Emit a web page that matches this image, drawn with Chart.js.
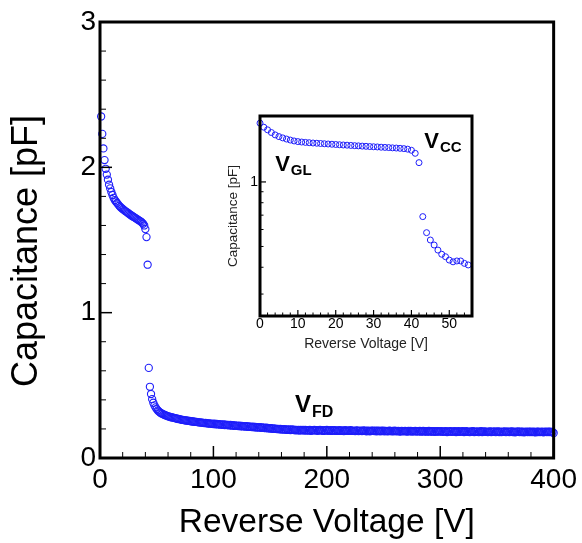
<!DOCTYPE html>
<html>
<head>
<meta charset="utf-8">
<title>C-V sweep</title>
<script src="https://cdn.jsdelivr.net/npm/chart.js@4"></script>
<style>
  body { margin: 0; background: #fff; }
  #wrap { position: relative; width: 582px; height: 543px; }
  #main { position: absolute; left: 0; top: 0; }
  #inset { position: absolute; left: 200px; top: 100px; }
</style>
</head>
<body>
<div id="wrap">
  <canvas id="main" width="582" height="543"></canvas>
  <canvas id="inset" width="290" height="260"></canvas>
</div>
<script>
// full sweep: 1 V steps starting at 1 V
const mainStartV = 1;
const mainStepV = 1;
const mainCap = [
  2.35, 2.23, 2.13, 2.05, 1.99, 1.95, 1.915, 1.88, 1.855, 1.83,
  1.81, 1.79, 1.775, 1.765, 1.755, 1.745, 1.735, 1.727, 1.72, 1.713,
  1.707, 1.70, 1.695, 1.69, 1.684, 1.678, 1.672, 1.667, 1.662, 1.657,
  1.652, 1.647, 1.642, 1.637, 1.632, 1.627, 1.62, 1.612, 1.60, 1.575,
  1.52, 1.33, 0.62, 0.49, 0.44, 0.405, 0.38, 0.362, 0.348, 0.336,
  0.327, 0.319, 0.313, 0.308, 0.304, 0.300, 0.296, 0.293, 0.290, 0.287,
  0.285, 0.282, 0.280, 0.279, 0.276, 0.274, 0.273, 0.270, 0.269, 0.267,
  0.266, 0.263, 0.262, 0.261, 0.259, 0.258, 0.257, 0.255, 0.255, 0.253,
  0.252, 0.251, 0.250, 0.248, 0.248, 0.247, 0.245, 0.245, 0.243, 0.243,
  0.242, 0.240, 0.241, 0.239, 0.238, 0.238, 0.236, 0.237, 0.235, 0.234,
  0.236, 0.232, 0.234, 0.231, 0.233, 0.229, 0.232, 0.228, 0.231, 0.227,
  0.229, 0.226, 0.228, 0.224, 0.227, 0.223, 0.226, 0.222, 0.224, 0.221,
  0.223, 0.220, 0.222, 0.218, 0.221, 0.217, 0.220, 0.216, 0.219, 0.215,
  0.218, 0.214, 0.216, 0.213, 0.215, 0.211, 0.214, 0.210, 0.213, 0.209,
  0.212, 0.208, 0.210, 0.207, 0.209, 0.205, 0.208, 0.204, 0.206, 0.203,
  0.205, 0.201, 0.204, 0.200, 0.202, 0.199, 0.201, 0.197, 0.200, 0.196,
  0.199, 0.195, 0.198, 0.194, 0.197, 0.193, 0.196, 0.192, 0.196, 0.193,
  0.195, 0.191, 0.194, 0.190, 0.194, 0.189, 0.193, 0.190, 0.194, 0.189,
  0.193, 0.188, 0.192, 0.189, 0.193, 0.187, 0.191, 0.190, 0.193, 0.188,
  0.192, 0.187, 0.191, 0.193, 0.188, 0.191, 0.186, 0.192, 0.189, 0.193,
  0.187, 0.190, 0.192, 0.186, 0.191, 0.188, 0.192, 0.186, 0.190, 0.187,
  0.191, 0.186, 0.190, 0.188, 0.185, 0.191, 0.187, 0.190, 0.186, 0.189,
  0.191, 0.186, 0.189, 0.187, 0.185, 0.190, 0.188, 0.185, 0.189, 0.187,
  0.185, 0.190, 0.186, 0.189, 0.184, 0.188, 0.187, 0.184, 0.189, 0.186,
  0.189, 0.185, 0.188, 0.184, 0.189, 0.186, 0.183, 0.188, 0.185, 0.189,
  0.184, 0.187, 0.185, 0.183, 0.188, 0.186, 0.183, 0.187, 0.184, 0.188,
  0.185, 0.183, 0.187, 0.184, 0.182, 0.187, 0.185, 0.183, 0.186, 0.184,
  0.182, 0.187, 0.184, 0.186, 0.182, 0.185, 0.183, 0.186, 0.182, 0.185,
  0.183, 0.186, 0.181, 0.184, 0.186, 0.182, 0.185, 0.181, 0.184, 0.186,
  0.181, 0.184, 0.182, 0.185, 0.180, 0.184, 0.182, 0.185, 0.181, 0.183,
  0.185, 0.180, 0.183, 0.181, 0.184, 0.179, 0.183, 0.182, 0.184, 0.180,
  0.183, 0.181, 0.184, 0.179, 0.182, 0.184, 0.180, 0.183, 0.181, 0.184,
  0.179, 0.182, 0.184, 0.180, 0.182, 0.178, 0.183, 0.181, 0.184, 0.179,
  0.182, 0.180, 0.183, 0.178, 0.182, 0.184, 0.179, 0.181, 0.183, 0.180,
  0.182, 0.178, 0.181, 0.183, 0.179, 0.182, 0.180, 0.183, 0.178, 0.181,
  0.183, 0.179, 0.181, 0.178, 0.182, 0.180, 0.183, 0.178, 0.181, 0.182,
  0.178, 0.181, 0.183, 0.179, 0.181, 0.177, 0.182, 0.180, 0.183, 0.178,
  0.181, 0.179, 0.182, 0.177, 0.180, 0.182, 0.178, 0.181, 0.179, 0.182,
  0.178, 0.181, 0.179, 0.177, 0.182, 0.179, 0.181, 0.178, 0.180, 0.182,
  0.177, 0.180, 0.182, 0.178, 0.181, 0.179, 0.182, 0.178, 0.179, 0.172
];

// low-voltage sweep (inset, log axis): 1 V steps from 0 V
const insetStartV = 0;
const insetStepV = 1;
const insetCap = [
  1.88, 1.80, 1.75, 1.70, 1.657, 1.627, 1.605, 1.585, 1.568, 1.553,
  1.542, 1.535, 1.529, 1.524, 1.519, 1.515, 1.511, 1.507, 1.503, 1.499,
  1.495, 1.491, 1.487, 1.484, 1.480, 1.476, 1.473, 1.469, 1.466, 1.462,
  1.459, 1.456, 1.452, 1.449, 1.446, 1.442, 1.439, 1.435, 1.430, 1.422,
  1.405, 1.36, 1.23, 0.689, 0.58, 0.536, 0.508, 0.481, 0.46, 0.448,
  0.432, 0.424, 0.428, 0.428, 0.417, 0.41
];

// axis ticks
const mainXMajor = [0, 100, 200, 300, 400];
const mainXMinor = [20, 40, 60, 80, 120, 140, 160, 180, 220, 240, 260, 280, 320, 340, 360, 380];
const mainYMajor = [0, 1, 2, 3];
const mainYMinor = [0.2, 0.4, 0.6, 0.8, 1.2, 1.4, 1.6, 1.8, 2.2, 2.4, 2.6, 2.8];
const insetXMajor = [0, 10, 20, 30, 40, 50];
const insetXMinor = [2, 4, 6, 8, 12, 14, 16, 18, 22, 24, 26, 28, 32, 34, 36, 38, 42, 44, 46, 48, 52, 54];
const insetYMajor = [1];
const insetYMinor = [0.3, 0.4, 0.5, 0.6, 0.7, 0.8, 0.9];

// voltage markers: [main text, subscript, voltage, capacitance]
const mainMarks = [['V', 'FD', 172, 0.318]];
const insetMarks = [['V', 'GL', 4.0, 1.125], ['V', 'CC', 43.4, 1.44]];

const FONT = "'Liberation Sans', Arial, sans-serif";
const BLUE = 'rgb(30,30,250)';

function toPoints(start, step, values) {
  return values.map((c, i) => ({ x: start + i * step, y: c }));
}

// per-canvas decoration settings
const decor = {
  main: {
    xMajor: mainXMajor, xMinor: mainXMinor, yMajor: mainYMajor, yMinor: mainYMinor,
    majorLen: 12, minorLen: 6, majorW: 1.5, frame: 3,
    marks: mainMarks, markSize: 24, subSize: 16, subDrop: 5,
    yTitle: { text: 'Capacitance [pF]', size: 36, x: 27, y: 251 }
  },
  inset: {
    xMajor: insetXMajor, xMinor: insetXMinor, yMajor: insetYMajor, yMinor: insetYMinor,
    majorLen: 6, minorLen: 3.5, majorW: 1.2, frame: 3,
    marks: insetMarks, markSize: 22, subSize: 15, subDrop: 4,
    yTitle: null
  }
};

// inward tick marks, box frame, rotated y title and subscripted labels
const frameTicks = {
  id: 'frameTicks',
  afterDatasetsDraw(chart) {
    const o = decor[chart.canvas.id];
    const ctx = chart.ctx, a = chart.chartArea;
    const sx = chart.scales.x, sy = chart.scales.y;
    ctx.save();
    ctx.strokeStyle = '#000';
    ctx.lineCap = 'butt';
    const xt = (list, len, w) => {
      ctx.lineWidth = w;
      list.forEach(v => {
        const p = sx.getPixelForValue(v);
        ctx.beginPath(); ctx.moveTo(p, a.bottom); ctx.lineTo(p, a.bottom - len); ctx.stroke();
      });
    };
    const yt = (list, len, w) => {
      ctx.lineWidth = w;
      list.forEach(v => {
        const p = sy.getPixelForValue(v);
        ctx.beginPath(); ctx.moveTo(a.left, p); ctx.lineTo(a.left + len, p); ctx.stroke();
      });
    };
    xt(o.xMajor, o.majorLen, o.majorW);
    xt(o.xMinor, o.minorLen, 1);
    yt(o.yMajor, o.majorLen, o.majorW);
    yt(o.yMinor, o.minorLen, 1);
    ctx.lineWidth = o.frame;
    ctx.strokeRect(a.left, a.top, a.right - a.left, a.bottom - a.top);

    ctx.fillStyle = '#000';
    ctx.textBaseline = 'alphabetic';
    ctx.textAlign = 'left';
    o.marks.forEach(([t, sub, v, c]) => {
      const px = sx.getPixelForValue(v), py = sy.getPixelForValue(c);
      ctx.font = 'bold ' + o.markSize + 'px ' + FONT;
      ctx.fillText(t, px, py);
      const w = ctx.measureText(t).width;
      ctx.font = 'bold ' + o.subSize + 'px ' + FONT;
      ctx.fillText(sub, px + w + 1, py + o.subDrop);
    });

    const yTitle = o.yTitle;
    if (yTitle) {
      ctx.translate(yTitle.x, yTitle.y);
      ctx.rotate(-Math.PI / 2);
      ctx.font = yTitle.size + 'px ' + FONT;
      ctx.textAlign = 'center';
      ctx.textBaseline = 'middle';
      ctx.fillText(yTitle.text, 0, 0);
    }
    ctx.restore();
  }
};

const fixTicks = list => s => { s.ticks = list.map(v => ({ value: v })); };

new Chart(document.getElementById('main'), {
  type: 'scatter',
  data: {
    datasets: [{
      data: toPoints(mainStartV, mainStepV, mainCap),
      borderColor: BLUE,
      backgroundColor: 'rgba(0,0,0,0)',
      pointRadius: 3.6,
      pointBorderWidth: 1.1,
      clip: false
    }]
  },
  options: {
    responsive: false,
    animation: false,
    events: [],
    layout: { padding: { left: 0, top: 22, right: 24, bottom: 0 } },
    plugins: { legend: { display: false }, tooltip: { enabled: false } },
    scales: {
      x: {
        type: 'linear', min: 0, max: 400,
        afterBuildTicks: fixTicks(mainXMajor),
        afterFit: s => { s.height = 85; },
        grid: { display: false, drawTicks: false },
        border: { display: false },
        ticks: { font: { family: FONT, size: 28 }, color: '#000', padding: 5, maxRotation: 0, autoSkip: false },
        title: { display: true, text: 'Reverse Voltage [V]', color: '#000',
                 font: { family: FONT, size: 33.5 }, padding: { top: 0, bottom: 0 } }
      },
      y: {
        type: 'linear', min: 0, max: 3,
        afterBuildTicks: fixTicks(mainYMajor),
        afterFit: s => { s.width = 100; },
        grid: { display: false, drawTicks: false },
        border: { display: false },
        ticks: { font: { family: FONT, size: 28 }, color: '#000', padding: 4, autoSkip: false }
      }
    }
  },
  plugins: [frameTicks]
});

new Chart(document.getElementById('inset'), {
  type: 'scatter',
  data: {
    datasets: [{
      data: toPoints(insetStartV, insetStepV, insetCap),
      borderColor: BLUE,
      backgroundColor: 'rgba(0,0,0,0)',
      pointRadius: 3,
      pointBorderWidth: 1,
      clip: false
    }]
  },
  options: {
    responsive: false,
    animation: false,
    events: [],
    layout: { padding: { left: 0, top: 16, right: 18, bottom: 0 } },
    plugins: { legend: { display: false }, tooltip: { enabled: false } },
    scales: {
      x: {
        type: 'linear', min: 0, max: 56,
        afterBuildTicks: fixTicks(insetXMajor),
        afterFit: s => { s.height = 44; },
        grid: { display: false, drawTicks: false },
        border: { display: false },
        ticks: { font: { family: FONT, size: 14 }, color: '#000', padding: 0, maxRotation: 0, autoSkip: false },
        title: { display: true, text: 'Reverse Voltage [V]', color: '#222',
                 font: { family: FONT, size: 14 }, padding: { top: 0, bottom: 7.6 } }
      },
      y: {
        type: 'logarithmic', min: 0.237, max: 2.03,
        afterBuildTicks: fixTicks(insetYMajor),
        afterFit: s => { s.width = 60; },
        grid: { display: false, drawTicks: false },
        border: { display: false },
        ticks: { font: { family: FONT, size: 14 }, color: '#000', padding: 2, autoSkip: false,
                 callback: v => String(v) },
        title: { display: true, text: 'Capacitance [pF]', color: '#222',
                 font: { family: FONT, size: 13.5 }, padding: { top: 25, bottom: 0 } }
      }
    }
  },
  plugins: [frameTicks]
});
</script>
</body>
</html>
